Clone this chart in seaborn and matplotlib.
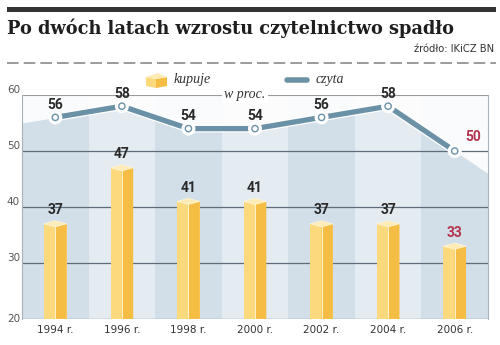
import numpy as np
import pandas as pd
import matplotlib
matplotlib.use("Agg")
import matplotlib.pyplot as plt
import matplotlib.patheffects as pe
from matplotlib.patches import Polygon, Rectangle
from matplotlib.lines import Line2D
import seaborn as sns

# --- data -------------------------------------------------------------
years = ["1994 r.", "1996 r.", "1998 r.", "2000 r.", "2002 r.", "2004 r.", "2006 r."]
kupuje = [37, 47, 41, 41, 37, 37, 33]   # buys books, %
czyta = [56, 58, 54, 54, 56, 58, 50]    # reads books, %
yticks = [20, 30, 40, 50, 60]

title = "Po dwóch latach wzrostu czytelnictwo spadło"
source = "źródło: IKiCZ BN"

# --- colours ----------------------------------------------------------
BLUE = "#6b91a7"
BAND_DARK = "#d2dfe9"
BAND_LIGHT = "#e4ebf1"
GRID = "#5e6d79"
BAR_L = "#fdd97e"
BAR_R = "#f6bd45"
BAR_TOP = "#fdecb6"
TXT = "#2a2a2a"
RED = "#b5344f"

sns.set_style("white")
plt.rcParams["font.family"] = ["DejaVu Sans"]

W, H = 500, 345
fig = plt.figure(figsize=(W / 100, H / 100), dpi=100)
fig.patch.set_facecolor("white")


def P(x, y):
    """pixel position -> figure fraction"""
    return x / W, 1 - y / H


ax = fig.add_axes([22 / W, 1 - 319 / H, 466 / W, 224 / H])
n = len(years)
idx = np.arange(n)
ax.set_xlim(-0.5, n - 0.5)
ax.set_ylim(20, 60)

# alternating column bands
for i in idx:
    ax.axvspan(i - 0.5, i + 0.5, color=BAND_DARK if i % 2 == 0 else BAND_LIGHT,
               zorder=0, lw=0)

# whiten the area above the reading curve (curve extended to the edges)
xe = np.concatenate([[-0.5], idx, [n - 0.5]])
left = czyta[0] - 0.5 * (czyta[1] - czyta[0])
right = czyta[-1] + 0.5 * (czyta[-1] - czyta[-2])
ye = np.concatenate([[left], czyta, [right]])
ax.fill_between(xe, ye, 60, color="white", alpha=0.9, lw=0, zorder=1)

# horizontal grid
for v in [30, 40, 50]:
    ax.axhline(v, color=GRID, lw=0.9, zorder=2)
ax.axhline(60, color="#9a9a9a", lw=0.8, zorder=2)

for s in ["top", "bottom"]:
    ax.spines[s].set_visible(False)
for s in ["left", "right"]:
    ax.spines[s].set_color("#a7b2bb")
    ax.spines[s].set_linewidth(0.8)
ax.axhline(20, color="#8c9aa5", lw=1.0, zorder=2)

# --- bars -------------------------------------------------------------
df = pd.DataFrame({"rok": years, "kupuje": kupuje, "czyta": czyta})
n_before = len(ax.patches)
sns.barplot(data=df, x="rok", y="kupuje", color=BAR_L, width=0.34,
            saturation=1, ax=ax, zorder=3, linewidth=0)
bar_patches = ax.patches[n_before:]

d = 0.55  # half-height of the top cap, data units
for p in bar_patches:
    x0 = p.get_x()
    x1 = x0 + p.get_width()
    xm = x0 + p.get_width() * 0.5
    top = p.get_y() + p.get_height()
    ax.add_patch(Polygon([(xm, 20), (x1, 20), (x1, top), (xm, top - d)],
                         closed=True, fc=BAR_R, ec="none", zorder=3.1))
    ax.add_patch(Polygon([(x0, top), (xm, top - d), (x1, top), (xm, top + d)],
                         closed=True, fc=BAR_TOP, ec="#fff6dc", lw=0.5,
                         zorder=3.2))
    ax.plot([xm, xm], [20, top - d], color="#fff3cf", lw=0.7, zorder=3.15)

# --- line -------------------------------------------------------------
sns.lineplot(x=idx, y=czyta, ax=ax, color=BLUE, lw=3.8, zorder=4,
             marker="o", markersize=4.5, markerfacecolor="white",
             markeredgecolor=BLUE, markeredgewidth=1.0,
             path_effects=[pe.Stroke(linewidth=5.6, foreground="white"),
                           pe.Normal()])
ax.lines[-1].set_clip_on(False)

# value labels
lab_font = dict(family=["Roboto", "DejaVu Sans"], weight="bold", fontsize=10)
for i, v in enumerate(kupuje):
    c = RED if i == n - 1 else TXT
    ax.annotate(f"{v}", (i, v + d), xytext=(0, 2.5), textcoords="offset points",
                ha="center", va="bottom", color=c, zorder=6, **lab_font)
for i, v in enumerate(czyta):
    if i == n - 1:
        ax.annotate(f"{v}", (i, v), xytext=(13, 5), textcoords="offset points",
                    ha="center", va="bottom", color=RED, zorder=6,
                    annotation_clip=False, **lab_font)
    else:
        ax.annotate(f"{v}", (i, v), xytext=(0, 4), textcoords="offset points",
                    ha="center", va="bottom", color=TXT, zorder=6,
                    annotation_clip=False, **lab_font)

# ticks
ax.set_xlabel("")
ax.set_ylabel("")
ax.set_xticks(idx)
ax.set_xticklabels(years, fontsize=7.5, color="#333333")
ax.set_yticks(yticks)
ax.set_yticklabels([str(t) for t in yticks], fontsize=7.5, color="#555555")
for t, lab in zip(yticks, ax.get_yticklabels()):
    lab.set_va("center" if t == 20 else "bottom")
ax.tick_params(axis="both", length=0, pad=1.5)
ax.tick_params(axis="x", pad=4)

# --- header -----------------------------------------------------------
fig.add_artist(Rectangle(P(7, 12), 489 / W, 5 / H, transform=fig.transFigure,
                         fc="#333333", ec="none"))
fig.text(*P(7, 28), title, fontsize=12.8, weight="bold", color="#1e1e1e",
         family=["DejaVu Serif"], ha="left", va="center")
fig.text(*P(494, 49), source, fontsize=7.2, color="#333333",
         ha="right", va="center")
fig.add_artist(Line2D([7 / W, 496 / W], [1 - 63 / H] * 2, transform=fig.transFigure,
                      color="#8a8a8a", lw=1.2, dashes=(7, 3)))

# --- legend -----------------------------------------------------------
cx0, cxm, cx1 = 146, 156, 167
fig.add_artist(Polygon([P(cx0, 77), P(cxm, 79), P(cxm, 88), P(cx0, 86)],
                       closed=True, transform=fig.transFigure, fc=BAR_L, ec="none"))
fig.add_artist(Polygon([P(cxm, 79), P(cx1, 77), P(cx1, 86), P(cxm, 88)],
                       closed=True, transform=fig.transFigure, fc=BAR_R, ec="none"))
fig.add_artist(Polygon([P(cx0, 77), P(cxm + 2, 73), P(cx1, 77), P(cxm, 79)],
                       closed=True, transform=fig.transFigure, fc=BAR_TOP, ec="none"))
fig.text(*P(174, 80), "kupuje", fontsize=10, style="italic", color="#333333",
         family=["Liberation Serif"], ha="left", va="center")
fig.add_artist(Line2D([287 / W, 307 / W], [1 - 80 / H] * 2, transform=fig.transFigure,
                      color=BLUE, lw=4, solid_capstyle="round"))
fig.text(*P(316, 80), "czyta", fontsize=10, style="italic", color="#333333",
         family=["Liberation Serif"], ha="left", va="center")
fig.text(*P(245, 94), "w proc.", fontsize=10, style="italic", color="#333333",
         family=["Liberation Serif"], ha="center", va="center",
         bbox=dict(fc="white", ec="none", pad=1.5))

fig.savefig("out.png", dpi=100)
